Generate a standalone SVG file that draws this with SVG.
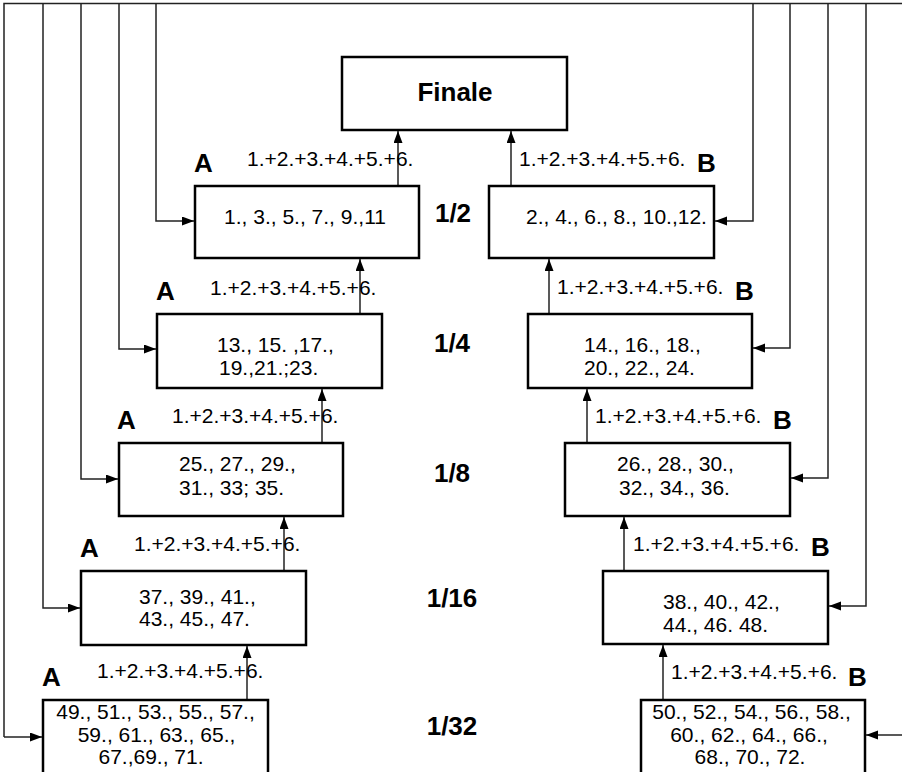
<svg xmlns="http://www.w3.org/2000/svg" width="902" height="772" viewBox="0 0 902 772">
<style>
.box{fill:#fff;stroke:#000;stroke-width:2.5}
.ln{fill:none;stroke:#222;stroke-width:1.5}
.t{font-family:"Liberation Sans",Arial,sans-serif;font-size:21px;fill:#000}
.b{font-family:"Liberation Sans",Arial,sans-serif;font-weight:bold;fill:#000}
.lab{font-size:26px}
.rnd{font-size:26px}
</style>
<defs>
<marker id="ah" markerUnits="userSpaceOnUse" markerWidth="13" markerHeight="10" refX="12" refY="4.5" orient="auto">
<path d="M0,0 L12,4.5 L0,9 z" fill="#000"/>
</marker>
</defs>
<rect width="902" height="772" fill="#fff"/>
<g id="connectors">
<path class="ln" d="M4,737 V3.5 H902"/>
<path class="ln" d="M4,737 H42" marker-end="url(#ah)"/>
<path class="ln" d="M43,3.5 V608 H80" marker-end="url(#ah)"/>
<path class="ln" d="M81,3.5 V479 H118" marker-end="url(#ah)"/>
<path class="ln" d="M119,3.5 V349 H156" marker-end="url(#ah)"/>
<path class="ln" d="M156,3.5 V221 H194" marker-end="url(#ah)"/>
<path class="ln" d="M753,3.5 V221 H715" marker-end="url(#ah)"/>
<path class="ln" d="M790,3.5 V348 H753" marker-end="url(#ah)"/>
<path class="ln" d="M828,3.5 V478 H791" marker-end="url(#ah)"/>
<path class="ln" d="M866,3.5 V606 H829" marker-end="url(#ah)"/>
<path class="ln" d="M902,735 H866" marker-end="url(#ah)"/>
<path class="ln" d="M398,186 V131" marker-end="url(#ah)"/>
<path class="ln" d="M511,186 V131" marker-end="url(#ah)"/>
<path class="ln" d="M360,314 V259" marker-end="url(#ah)"/>
<path class="ln" d="M549,314 V259" marker-end="url(#ah)"/>
<path class="ln" d="M322,443 V389" marker-end="url(#ah)"/>
<path class="ln" d="M587,443 V389" marker-end="url(#ah)"/>
<path class="ln" d="M284,571 V517" marker-end="url(#ah)"/>
<path class="ln" d="M624,571 V517" marker-end="url(#ah)"/>
<path class="ln" d="M247,700 V646" marker-end="url(#ah)"/>
<path class="ln" d="M663,700 V645" marker-end="url(#ah)"/>
</g>
<g id="finale">
<rect class="box" x="342" y="57" width="225" height="73"/>
<text class="b" x="455" y="101" font-size="26" text-anchor="middle">Finale</text>
</g>
<g id="half-a">
<rect class="box" x="195" y="186" width="224" height="72"/>
<text class="t" x="305" y="224" text-anchor="middle">1., 3., 5., 7., 9.,11</text>
<text class="b lab" x="194" y="172">A</text>
<text class="t" x="247" y="166">1.+2.+3.+4.+5.+6.</text>
</g>
<g id="half-b">
<rect class="box" x="489" y="186" width="225" height="72"/>
<text class="t" x="526" y="224">2., 4., 6., 8., 10.,12.</text>
<text class="t" x="519" y="166">1.+2.+3.+4.+5.+6.</text>
<text class="b lab" x="697" y="172">B</text>
</g>
<g id="quarter-a">
<rect class="box" x="157" y="314" width="225" height="74"/>
<text class="t" x="217" y="352">13., 15. ,17.,</text>
<text class="t" x="219" y="375">19.,21.;23.</text>
<text class="b lab" x="156" y="300">A</text>
<text class="t" x="210" y="295">1.+2.+3.+4.+5.+6.</text>
</g>
<g id="quarter-b">
<rect class="box" x="528" y="314" width="224" height="74"/>
<text class="t" x="584" y="352">14., 16., 18.,</text>
<text class="t" x="584" y="375">20., 22., 24.</text>
<text class="t" x="557" y="294">1.+2.+3.+4.+5.+6.</text>
<text class="b lab" x="735" y="300">B</text>
</g>
<g id="eighth-a">
<rect class="box" x="119" y="443" width="224" height="73"/>
<text class="t" x="179" y="471">25., 27., 29.,</text>
<text class="t" x="179" y="495">31., 33; 35.</text>
<text class="b lab" x="117" y="429">A</text>
<text class="t" x="172" y="423">1.+2.+3.+4.+5.+6.</text>
</g>
<g id="eighth-b">
<rect class="box" x="565" y="443" width="225" height="73"/>
<text class="t" x="617" y="471">26., 28., 30.,</text>
<text class="t" x="619" y="495">32., 34., 36.</text>
<text class="t" x="595" y="423">1.+2.+3.+4.+5.+6.</text>
<text class="b lab" x="773" y="429">B</text>
</g>
<g id="sixteenth-a">
<rect class="box" x="81" y="571" width="225" height="74"/>
<text class="t" x="139" y="604">37., 39., 41.,</text>
<text class="t" x="139" y="626">43., 45., 47.</text>
<text class="b lab" x="80" y="557">A</text>
<text class="t" x="134" y="551">1.+2.+3.+4.+5.+6.</text>
</g>
<g id="sixteenth-b">
<rect class="box" x="603" y="571" width="225" height="73"/>
<text class="t" x="663" y="609">38., 40., 42.,</text>
<text class="t" x="663" y="632">44., 46. 48.</text>
<text class="t" x="633" y="551">1.+2.+3.+4.+5.+6.</text>
<text class="b lab" x="811" y="556">B</text>
</g>
<g id="thirtysecond-a">
<rect class="box" x="43" y="700" width="225" height="80"/>
<text class="t" x="155.5" y="719" text-anchor="middle">49., 51., 53., 55., 57.,</text>
<text class="t" x="156.5" y="742" text-anchor="middle">59., 61., 63., 65.,</text>
<text class="t" x="151" y="764" text-anchor="middle">67.,69., 71.</text>
<text class="b lab" x="42" y="686">A</text>
<text class="t" x="97" y="678">1.+2.+3.+4.+5.+6.</text>
</g>
<g id="thirtysecond-b">
<rect class="box" x="641" y="700" width="224" height="80"/>
<text class="t" x="751.5" y="719" text-anchor="middle">50., 52., 54., 56., 58.,</text>
<text class="t" x="749" y="742" text-anchor="middle">60., 62., 64., 66.,</text>
<text class="t" x="750" y="764" text-anchor="middle">68., 70., 72.</text>
<text class="t" x="671" y="679">1.+2.+3.+4.+5.+6.</text>
<text class="b lab" x="848" y="686">B</text>
</g>
<g id="rounds">
<text class="b rnd" x="453" y="222" text-anchor="middle">1/2</text>
<text class="b rnd" x="452" y="352" text-anchor="middle">1/4</text>
<text class="b rnd" x="452" y="482" text-anchor="middle">1/8</text>
<text class="b rnd" x="452" y="607" text-anchor="middle">1/16</text>
<text class="b rnd" x="452" y="735" text-anchor="middle">1/32</text>
</g>
</svg>
